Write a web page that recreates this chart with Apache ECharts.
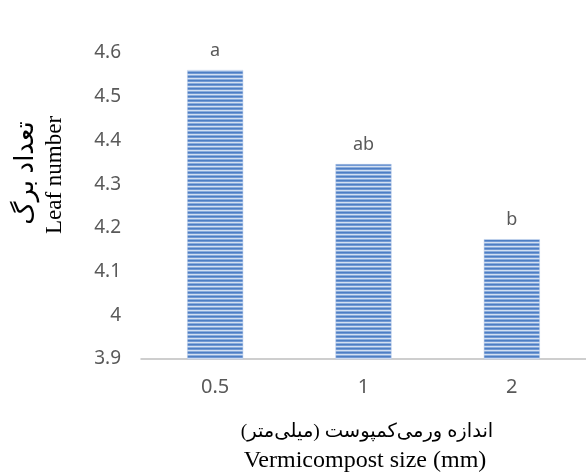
<!DOCTYPE html>
<html>
<head>
<meta charset="utf-8">
<script src="https://cdn.jsdelivr.net/npm/echarts@6/dist/echarts.min.js"></script>
<style>html,body{margin:0;padding:0;background:#fff;}#c{width:586px;height:474px;}</style>
</head>
<body>
<div id="c"></div>
<script>
var categories = ['0.5', '1', '2'];
var leafNumber = [4.561, 4.346, 4.174];
var letters = ['a', 'ab', 'b'];
var yTitleFa = 'تعداد برگ';
var yTitleEn = 'Leaf number';
var xTitleFa = 'اندازه ورمی‌کمپوست (میلی‌متر)';
var xTitleEn = 'Vermicompost size (mm)';

function makeStripe() {
  var cv = document.createElement('canvas');
  cv.width = 8; cv.height = 4;
  var ctx = cv.getContext('2d');
  var rows = ['#4d7ec4', '#7199d3', '#d3e0f2', '#8aacdc'];
  for (var i = 0; i < rows.length; i++) { ctx.fillStyle = rows[i]; ctx.fillRect(0, i, 8, 1); }
  return cv;
}

var chart = echarts.init(document.getElementById('c'));
var RLM = '\u200F';
var serif = '"Liberation Serif", "DejaVu Serif", "DejaVu Sans"';
chart.setOption({
  animation: false,
  grid: { left: 141, right: -4, top: 53, bottom: 115, containLabel: false },
  xAxis: {
    type: 'category',
    data: categories,
    axisLine: { lineStyle: { color: '#bfbfbf', width: 1.5 } },
    axisTick: { show: false },
    axisLabel: { color: '#595959', fontSize: 20, fontFamily: 'Noto Sans', margin: 18 }
  },
  yAxis: {
    type: 'value',
    min: 3.9, max: 4.6, interval: 0.1,
    splitLine: { show: false },
    axisLine: { show: false },
    axisTick: { show: false },
    axisLabel: { color: '#595959', fontSize: 19, fontFamily: 'Noto Sans', margin: 20 }
  },
  series: [{
    type: 'bar',
    data: leafNumber,
    barWidth: 56,
    itemStyle: { color: { image: makeStripe(), repeat: 'repeat' }, borderColor: '#b8cbe8', borderWidth: 0.5 },
    label: {
      show: true, position: 'top', distance: 10,
      color: '#595959', fontSize: 18, fontFamily: 'Noto Sans',
      formatter: function (p) { return letters[p.dataIndex]; }
    }
  }],
  graphic: [
    { type: 'text', x: 26, y: 173, rotation: Math.PI / 2, style: { text: RLM + yTitleFa + RLM, x: 0, y: 0, textAlign: 'center', textVerticalAlign: 'middle', fill: '#000', font: '26px ' + serif } },
    { type: 'text', x: 55, y: 175, rotation: Math.PI / 2, style: { text: yTitleEn, x: 0, y: 0, textAlign: 'center', textVerticalAlign: 'middle', fill: '#000', font: '23px ' + serif } },
    { type: 'text', x: 367, y: 432, style: { text: RLM + xTitleFa + RLM, x: 0, y: 0, textAlign: 'center', textVerticalAlign: 'middle', fill: '#000', font: '19.5px ' + serif } },
    { type: 'text', x: 365, y: 461, style: { text: xTitleEn, x: 0, y: 0, textAlign: 'center', textVerticalAlign: 'middle', fill: '#000', font: '24px ' + serif } }
  ]
});
</script>
</body>
</html>
